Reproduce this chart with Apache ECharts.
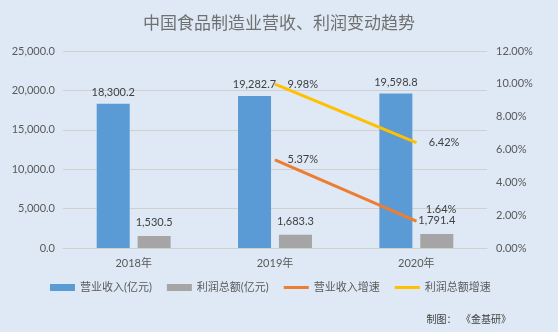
<!DOCTYPE html>
<html><head><meta charset="utf-8">
<script src="https://cdn.jsdelivr.net/npm/echarts@6/dist/echarts.min.js"></script>
<style>html,body{margin:0;padding:0;background:#dee9f5;}#c{width:558px;height:332px;}</style>
</head><body><div id="c"></div>
<script>
const categories = ['2018年', '2019年', '2020年'];
const revenue = [18300.2, 19282.7, 19598.8];
const profit = [1530.5, 1683.3, 1791.4];
const revenueGrowth = [null, 5.37, 1.64];
const profitGrowth = [null, 9.98, 6.42];
const leftTicks = {min: 0, max: 25000, interval: 5000};
const rightTicks = {min: 0, max: 12, interval: 2};

const FONT = 'Lato, "Noto Sans CJK SC", sans-serif';
const TXT = '#595959';
const ORANGE = '#ed7d31', YELLOW = '#ffc000';
const fmtNum = v => Number(v).toLocaleString('en-US', {minimumFractionDigits: 1, maximumFractionDigits: 1});
const pct = p => p.value == null ? '' : Number(p.value).toFixed(2) + '%';
const lineIcon = 'path://M0,0H25V3H0Z';
const chart = echarts.init(document.getElementById('c'), null, {renderer: 'canvas'});
chart.setOption({
  backgroundColor: '#dee9f5',
  animation: false,
  textStyle: {fontFamily: FONT},
  title: {
    text: '中国食品制造业营收、利润变动趋势',
    left: 'center', top: 9,
    textStyle: {fontFamily: '"Noto Sans CJK SC", sans-serif', fontSize: 17, fontWeight: 'normal', color: '#707070'}
  },
  graphic: [{
    type: 'text', right: 47, top: 314,
    style: {text: '制图：  《金基研》', font: '10px "Noto Sans CJK SC", sans-serif', fill: '#404040'}
  }],
  legend: {
    left: 45, top: 277, itemWidth: 25, itemHeight: 7, itemGap: 15,
    textStyle: {fontFamily: FONT, fontSize: 11, color: TXT},
    data: [
      {name: '营业收入(亿元)', icon: 'rect'},
      {name: '利润总额(亿元)', icon: 'rect'},
      {name: '营业收入增速', icon: lineIcon, itemStyle: {color: ORANGE}},
      {name: '利润总额增速', icon: lineIcon, itemStyle: {color: YELLOW}}
    ]
  },
  grid: {left: 63, right: 71, top: 51, bottom: 84},
  xAxis: {
    type: 'category', data: categories,
    axisLine: {lineStyle: {color: '#d0d0d0'}},
    axisTick: {show: false},
    axisLabel: {color: TXT, fontSize: 11, fontFamily: FONT, margin: 10}
  },
  yAxis: [{
    type: 'value', min: leftTicks.min, max: leftTicks.max, interval: leftTicks.interval,
    axisLine: {show: false}, axisTick: {show: false},
    axisLabel: {color: TXT, fontSize: 11, fontFamily: FONT, margin: 8, formatter: v => fmtNum(v)},
    splitLine: {lineStyle: {color: '#d0d0d0'}}
  }, {
    type: 'value', min: rightTicks.min, max: rightTicks.max, interval: rightTicks.interval,
    axisLine: {show: false}, axisTick: {show: false},
    axisLabel: {color: TXT, fontSize: 11, fontFamily: FONT, margin: 9, formatter: v => v.toFixed(2) + '%'},
    splitLine: {show: false}
  }],
  series: [{
    name: '营业收入(亿元)', type: 'bar', data: revenue, barWidth: 33, barGap: '24%',
    itemStyle: {color: '#5b9bd5'},
    label: {show: true, position: 'top', distance: 6, color: '#404040', fontSize: 11, fontFamily: FONT, formatter: p => fmtNum(p.value)}
  }, {
    name: '利润总额(亿元)', type: 'bar', data: profit, barWidth: 33,
    itemStyle: {color: '#a5a5a5'},
    label: {show: true, position: 'top', distance: 8, color: '#404040', fontSize: 11, fontFamily: FONT, formatter: p => fmtNum(p.value)}
  }, {
    name: '营业收入增速', type: 'line', yAxisIndex: 1, data: revenueGrowth,
    symbol: 'circle', symbolSize: 1, showSymbol: true,
    lineStyle: {color: ORANGE, width: 3}, itemStyle: {color: ORANGE},
    label: {show: true, position: 'right', distance: 12, offset: [0, -2], color: '#404040', fontSize: 11, fontFamily: FONT, formatter: pct},
    labelLayout: p => p.dataIndex === 2 ? {dx: -3, dy: -12} : {}
  }, {
    name: '利润总额增速', type: 'line', yAxisIndex: 1, data: profitGrowth,
    symbol: 'circle', symbolSize: 1, showSymbol: true,
    lineStyle: {color: YELLOW, width: 3}, itemStyle: {color: YELLOW},
    label: {show: true, position: 'right', distance: 12, color: '#404040', fontSize: 11, fontFamily: FONT, formatter: pct}
  }]
});
</script></body></html>
